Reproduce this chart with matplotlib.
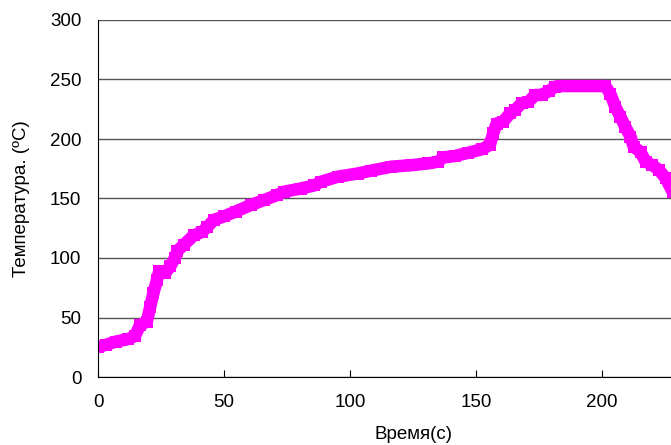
import matplotlib
matplotlib.use("Agg")
import matplotlib.pyplot as plt

plt.rcParams['font.family'] = ['Liberation Sans', 'DejaVu Sans']

# Time (s) and temperature (C)
time_s = [0, 3, 7, 12, 14.7, 16.7, 19.4, 20.7, 22, 23.4, 24.3, 26.7, 28.7,
          30.5, 31.5, 34, 38, 41.3, 43.3, 46, 50, 54.6, 60.6, 65.9, 71.2,
          73.8, 80.5, 85.8, 88.4, 95.1, 103, 108.4, 116.3, 124.3, 131, 135,
          137, 141.6, 146.9, 152.2, 155.5, 156.8, 158.2, 160.8, 163.5, 165.5,
          168.1, 170.8, 173.5, 176, 178.8, 181.4, 184, 192, 201.3, 203.3,
          205.3, 207.3, 209.3, 211.3, 212.6, 215.3, 217.3, 220, 222.6, 225.3,
          228, 230]
temp_c = [25, 27, 29.7, 31.9, 34.5, 43.7, 46.5, 59, 70.6, 81.5, 89, 87.5, 93,
          100, 106, 111, 119, 122, 126, 132, 135, 139, 144.5, 148.7, 153,
          155.7, 158.4, 161, 164, 168.3, 171, 173.4, 176.7, 178, 179.5, 181,
          184.5, 185.7, 188.4, 191.3, 195, 204.7, 213, 214.6, 221.5, 224.4,
          230, 231.3, 237, 237, 240, 244, 244.5, 244.5, 244.5, 238,
          227, 218.7, 210, 202, 193.5, 189, 181, 178, 174, 167,
          155.7, 150]

x_ticks = [0, 50, 100, 150, 200]
y_ticks = [0, 50, 100, 150, 200, 250, 300]

fig = plt.figure(figsize=(6.71, 4.45), dpi=100)
# axes run past the right edge, like the cropped original
ax = fig.add_axes([98/671, 68/445, 630/671, 357/445])

ax.plot(time_s, temp_c, color='#FF00FF', lw=9, marker='s', ms=8,
        markeredgewidth=0, solid_joinstyle='round', solid_capstyle='round')

ax.set_xlim(0, 250)
ax.set_ylim(0, 300)
ax.set_xticks(x_ticks)
ax.set_yticks(y_ticks)
ax.yaxis.grid(True, color='#555555', lw=1)
ax.set_axisbelow(True)

for s in ['top', 'right']:
    ax.spines[s].set_visible(False)
ax.spines['left'].set_color('black')
ax.spines['bottom'].set_color('black')

ax.tick_params(axis='x', direction='in', length=5, pad=12, labelsize=13.5)
ax.tick_params(axis='y', length=0, pad=12, labelsize=13.5)

ax.set_xlabel('Время(с)', fontsize=13.5, labelpad=11)
ax.set_ylabel('Температура. (ºC)', fontsize=13.5, labelpad=14)

fig.savefig('out.png', dpi=100)
